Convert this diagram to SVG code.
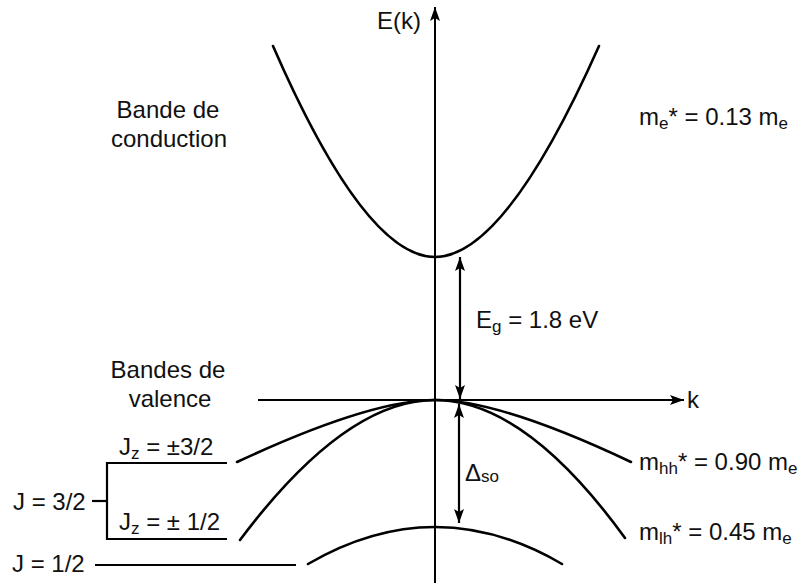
<svg xmlns="http://www.w3.org/2000/svg" width="802" height="583" viewBox="0 0 802 583">
  <style>
    text { font-family: "Liberation Sans", Arial, sans-serif; font-size: 24px; fill: #111; }
    .sub { font-size: 17px; }
    .curve { fill: none; stroke: #000; stroke-width: 2.6; stroke-linecap: round; }
    .axis { fill: none; stroke: #000; stroke-width: 2; }
    .line { fill: none; stroke: #000; stroke-width: 2.2; }
  </style>
  <defs>
    <marker id="ah" viewBox="0 0 14 10" refX="14" refY="5" markerWidth="14" markerHeight="10" markerUnits="userSpaceOnUse" orient="auto-start-reverse">
      <path d="M0,0 L14,5 L0,10 L3,5 z" fill="#000"/>
    </marker>
  </defs>
  <rect width="802" height="583" fill="#fff"/>

  <g id="axes">
    <line class="axis" x1="435" y1="583" x2="435" y2="7" marker-end="url(#ah)"/>
    <line class="axis" x1="258" y1="400" x2="684" y2="400" marker-end="url(#ah)"/>
    <text x="421" y="29" text-anchor="end">E(k)</text>
    <text x="687" y="408">k</text>
  </g>

  <g id="conduction">
    <path class="curve" d="M273,46 Q365,257 435,257 Q505,257 599,46"/>
    <text x="168" y="118" text-anchor="middle">Bande de</text>
    <text x="169" y="147" text-anchor="middle">conduction</text>
    <text x="639" y="125">m<tspan class="sub" dy="4">e</tspan><tspan dy="-4">* = 0.13 m</tspan><tspan class="sub" dy="4">e</tspan></text>
  </g>

  <g id="valence">
    <path class="curve" d="M237,462 Q370,400 435,400 Q500,400 631,462"/>
    <path class="curve" d="M240,540 Q345,400 435,400 Q525,400 625,538"/>
    <path class="curve" d="M308,564 Q435,490 562,564"/>
    <text x="168" y="378" text-anchor="middle">Bandes de</text>
    <text x="170" y="407" text-anchor="middle">valence</text>
    <text x="639" y="470">m<tspan class="sub" dy="4">hh</tspan><tspan dy="-4">* = 0.90 m</tspan><tspan class="sub" dy="4">e</tspan></text>
    <text x="639" y="540">m<tspan class="sub" dy="4">lh</tspan><tspan dy="-4">* = 0.45 m</tspan><tspan class="sub" dy="4">e</tspan></text>
  </g>

  <g id="gaps">
    <line class="line" x1="460" y1="257" x2="460" y2="399" marker-start="url(#ah)" marker-end="url(#ah)"/>
    <text x="476" y="328">E<tspan class="sub" dy="4">g</tspan><tspan dy="-4"> = 1.8 eV</tspan></text>
    <line class="line" x1="459" y1="404" x2="459" y2="523" marker-start="url(#ah)" marker-end="url(#ah)"/>
    <text x="465" y="481">Δ<tspan class="sub" dy="1">so</tspan></text>
  </g>

  <g id="levels">
    <polyline class="line" points="227,463 107,463 107,539 227,539"/>
    <line class="line" x1="92" y1="501" x2="107" y2="501"/>
    <line class="line" x1="95" y1="565" x2="296" y2="565"/>
    <text x="13" y="510">J = 3/2</text>
    <text x="119" y="455">J<tspan class="sub" dy="4">z</tspan><tspan dy="-4"> = ±3/2</tspan></text>
    <text x="119" y="530">J<tspan class="sub" dy="4">z</tspan><tspan dy="-4"> = ± 1/2</tspan></text>
    <text x="12" y="572">J = 1/2</text>
  </g>
</svg>
